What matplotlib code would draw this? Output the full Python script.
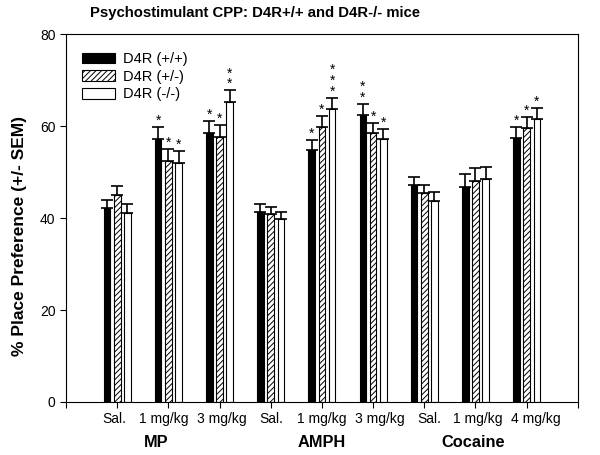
import numpy as np
import matplotlib
matplotlib.use('Agg')
import matplotlib.pyplot as plt
import matplotlib.patches as mpatches
from matplotlib.transforms import ScaledTranslation

plt.rcParams['font.family'] = ['Liberation Sans', 'DejaVu Sans']
plt.rcParams['hatch.linewidth'] = 0.7

# doses along x, drug groups below
dose_labels = ['Sal.', '1 mg/kg', '3 mg/kg', 'Sal.', '1 mg/kg', '3 mg/kg', 'Sal.', '1 mg/kg', '4 mg/kg']
drug_labels = ['MP', 'AMPH', 'Cocaine']
series_names = ['D4R (+/+)', 'D4R (+/-)', 'D4R (-/-)']

wt_mean = [42.1, 57.3, 58.6, 41.4, 54.8, 62.5, 47.2, 46.7, 57.4]
het_mean = [45.1, 52.4, 57.6, 40.9, 59.9, 58.4, 45.5, 48.0, 59.5]
ko_mean = [41.2, 51.9, 65.2, 39.9, 63.8, 57.1, 43.8, 48.5, 61.5]

wt_sem = [1.9, 2.6, 2.6, 1.6, 2.2, 2.4, 1.8, 2.8, 2.5]
het_sem = [1.9, 2.6, 2.6, 1.6, 2.3, 2.3, 1.7, 2.8, 2.5]
ko_sem = [1.9, 2.7, 2.6, 1.5, 2.4, 2.3, 1.8, 2.7, 2.4]

# number of asterisks above each bar
wt_stars = [0, 1, 1, 0, 1, 2, 0, 0, 1]
het_stars = [0, 1, 1, 0, 1, 1, 0, 0, 1]
ko_stars = [0, 1, 2, 0, 3, 1, 0, 0, 1]

means = [wt_mean, het_mean, ko_mean]
sems = [wt_sem, het_sem, ko_sem]
stars = [wt_stars, het_stars, ko_stars]
faces = ['black', 'white', 'white']
hatches = [None, '//////', None]

# small horizontal nudges (pixels) of the dose labels, as in the original layout
label_nudge = [-3, -5, 2, 1, 0, 7, 5, 2, 9]

fig = plt.figure(figsize=(6, 4.55), dpi=100)
ax = fig.add_axes([0.11, 0.1165, 0.853, 0.8085])

x = np.arange(1, len(dose_labels) + 1)
width = 0.13
offsets = [-0.2, 0.0, 0.2]

for i in range(3):
    xs = x + offsets[i]
    ax.bar(xs, means[i], width, color=faces[i], edgecolor='black',
           linewidth=0.8, hatch=hatches[i], zorder=2)
    ax.errorbar(xs, means[i], yerr=[np.zeros(len(xs)), sems[i]], fmt='none',
                ecolor='black', elinewidth=1.2, capsize=4, capthick=1.2, zorder=3)
    for xi, m, s, n in zip(xs, means[i], sems[i], stars[i]):
        if n:
            # stacked asterisks as one text
            ax.text(xi, m + s - 0.2, '\n'.join(['*'] * n), ha='center',
                    va='bottom', fontsize=10, linespacing=0.7)

ax.set_xlim(0, 10)
ax.set_ylim(0, 80)
ax.set_yticks([0, 20, 40, 60, 80])
ax.set_xticks(np.arange(0, 11))
ax.set_xticklabels([''] + dose_labels + [''])
ax.tick_params(direction='out', labelsize=10, length=4)
for lab, dx in zip(ax.get_xticklabels()[1:-1], label_nudge):
    lab.set_transform(lab.get_transform() + ScaledTranslation(dx / 100.0, 0, fig.dpi_scale_trans))

group_pos = [1.77, 5.0, 7.95]
for pos, name in zip(group_pos, drug_labels):
    ax.text(pos, -8.9, name, ha='center', va='center',
            fontsize=11.8, fontweight='bold')

fig.text(0.033, 0.481, '% Place Preference (+/- SEM)', rotation=90,
         ha='center', va='center', fontsize=12.5, fontweight='bold')
fig.text(0.425, 0.972, 'Psychostimulant CPP: D4R+/+ and D4R-/- mice',
         ha='center', va='center', fontsize=10.75, fontweight='bold')

handles = [mpatches.Patch(facecolor=faces[i], edgecolor='black', hatch=hatches[i],
                          linewidth=0.8) for i in range(3)]
ax.legend(handles, series_names, loc='upper left', frameon=False, fontsize=10.5,
          handlelength=2.3, handleheight=0.75, labelspacing=0.25,
          handletextpad=0.55, borderpad=0, borderaxespad=0,
          bbox_to_anchor=(0.031, 0.951))

fig.savefig('out.png', dpi=100)
